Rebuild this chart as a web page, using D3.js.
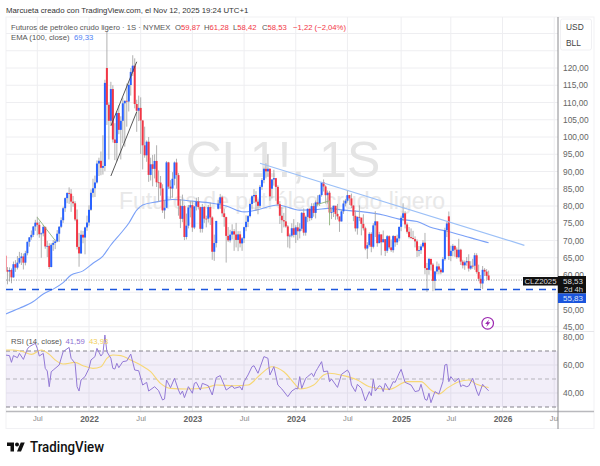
<!DOCTYPE html>
<html>
<head>
<meta charset="utf-8">
<script src="https://cdn.jsdelivr.net/npm/d3@7"></script>
<style>
  body { margin: 0; background: #fff; }
  svg { display: block; font-family: "Liberation Sans", Arial, sans-serif; }
</style>
</head>
<body>
<svg id="chart" width="600" height="466"></svg>
<script>
// weekly bars, first one is the week of 15 Mar 2021, week 0 is 3 Jan 2022
const firstWeek = -42;

const closes = [
  // 2021
  61.42,60.97,61.45,59.32,63.13,62.14,63.58,64.90,65.37,63.58,66.32,69.62,70.91,71.64,74.05,75.16,
  74.56,71.81,72.07,73.95,68.28,68.44,62.32,68.74,69.29,69.72,71.97,73.98,75.88,79.35,82.28,83.76,
  83.57,81.27,80.79,76.10,68.15,66.26,71.67,70.86,73.79,75.21,
  // 2022
  78.90,83.82,85.14,86.82,92.31,93.10,91.07,91.59,115.68,109.33,104.70,113.90,99.27,98.26,106.95,102.07,
  104.69,109.77,110.49,110.28,115.07,118.87,120.67,109.56,107.62,108.43,104.79,97.59,94.70,98.62,89.01,92.09,
  90.77,93.06,86.87,86.79,85.11,78.74,79.49,92.64,85.61,85.05,87.90,92.61,88.96,80.08,76.28,79.98,
  71.02,74.29,79.56,80.26,
  // 2023
  73.77,79.86,81.31,79.68,73.39,79.72,76.34,76.32,79.68,76.68,66.74,69.26,75.67,80.70,82.52,77.87,
  76.78,71.34,70.04,71.69,72.67,71.74,70.17,71.78,69.16,70.64,73.86,75.42,77.07,80.58,82.82,83.19,
  81.25,80.05,85.55,87.51,90.77,90.03,90.79,82.79,87.69,88.08,85.54,80.51,77.17,75.89,75.54,74.07,
  71.23,71.43,73.56,71.65,
  // 2024
  73.81,72.68,73.41,78.01,72.28,76.84,79.19,76.49,79.97,78.01,81.04,80.63,83.17,86.91,85.66,83.14,
  83.85,78.11,78.26,80.06,77.72,76.99,75.53,78.45,80.73,81.54,83.16,82.21,80.13,77.16,73.52,76.84,
  76.65,74.83,73.55,67.67,68.65,71.92,68.18,74.38,75.56,69.22,71.78,69.49,70.38,67.02,71.24,68.00,
  67.20,71.29,69.46,70.60,73.96,
  // 2025
  76.57,77.88,74.66,72.53,71.00,70.74,70.40,69.76,67.04,67.18,68.28,69.36,61.99,61.50,64.68,63.02,
  58.29,61.02,62.49,61.53,60.79,64.58,72.98,74.93,65.52,67.00,68.45,67.34,65.16,67.33,63.88,62.80,
  63.66,64.01,61.87,62.69,62.68,65.72,60.88,58.90,57.54,61.50,60.98,59.75,58.53
];
const highs = [
  66.4,62.3,62.2,61.9,63.9,64.3,65.5,66.7,66.4,66.2,67.0,69.7,71.0,72.9,74.2,76.0,
  76.9,75.5,72.3,74.5,74.0,69.9,69.2,69.2,70.1,70.3,73.0,74.2,76.7,79.8,82.5,84.0,
  85.4,84.9,82.9,81.4,79.0,72.2,72.9,72.8,74.0,77.2,
  80.2,84.8,87.9,88.8,93.2,94.0,95.8,100.5,116.6,130.5,110.0,116.0,115.0,104.0,107.5,109.2,
  106.0,111.4,110.6,115.5,115.4,120.0,123.7,122.8,110.8,112.0,111.5,104.9,103.0,99.0,100.0,94.0,
  94.8,95.0,97.6,90.3,88.7,86.3,81.8,93.0,92.8,87.5,89.8,92.9,93.7,89.6,82.0,83.3,
  80.3,77.8,80.3,81.5,
  81.5,80.0,82.4,82.6,79.8,80.6,80.0,77.2,80.3,81.0,77.0,71.7,75.7,81.7,83.5,83.0,
  79.2,76.9,73.9,73.1,74.7,73.3,75.1,72.7,72.7,71.0,74.0,77.3,77.4,80.8,83.1,84.9,
  84.3,81.9,86.1,88.1,91.1,92.4,95.0,90.9,87.8,90.5,87.5,86.0,81.4,79.7,78.0,79.7,
  74.5,72.0,75.0,76.2,
  74.4,75.3,75.0,78.3,79.3,77.2,79.3,79.3,80.8,80.8,81.6,83.1,83.4,87.0,87.7,86.0,
  84.5,84.4,79.6,80.1,80.0,80.6,76.5,78.9,81.6,82.0,84.5,83.2,83.6,80.2,78.7,77.0,
  80.2,76.0,77.6,74.0,69.5,72.4,72.4,75.0,78.5,75.2,72.5,71.6,72.9,70.4,71.6,71.5,
  70.3,71.6,71.4,71.7,74.0,
  77.2,80.8,78.5,75.2,73.9,73.5,72.8,71.2,70.3,68.4,68.9,70.1,72.2,63.5,64.9,64.2,
  63.5,61.2,63.9,63.3,62.0,65.2,73.7,75.5,78.4,68.5,69.0,68.5,68.0,70.5,67.6,64.4,
  64.2,65.2,66.0,64.0,64.7,66.4,66.3,63.0,60.0,62.6,62.0,61.7,61.28
];
const lows = [
  57.3,57.3,58.1,57.6,59.2,60.9,61.6,63.2,62.9,61.6,62.8,65.7,68.2,70.2,71.0,72.8,
  71.5,70.8,65.0,71.2,67.6,65.2,61.7,62.2,67.0,67.5,69.5,69.6,73.6,75.1,78.3,80.8,
  80.6,78.3,79.8,75.6,67.4,62.4,66.1,69.2,66.0,72.8,
  74.3,78.6,82.5,82.6,86.5,88.7,88.9,89.1,90.1,103.5,93.5,103.5,98.4,93.3,92.9,100.8,
  93.5,98.2,97.2,103.0,107.4,112.0,117.7,108.3,101.5,104.6,95.1,90.6,94.0,92.8,87.0,87.4,
  85.7,88.0,85.5,81.2,83.0,78.0,76.3,79.4,84.9,82.1,82.4,86.0,85.0,77.2,73.6,75.3,
  70.1,70.3,73.5,76.7,
  72.5,73.3,78.7,79.0,72.3,72.3,75.1,73.8,75.2,74.5,64.4,64.1,68.0,79.0,79.2,76.9,
  74.0,63.6,69.6,69.4,70.3,67.0,68.0,66.9,68.0,67.0,69.3,72.7,73.9,76.7,79.0,80.9,
  78.6,77.6,79.4,84.7,86.6,88.0,88.5,81.5,82.2,85.9,81.5,80.1,74.8,72.2,73.8,73.7,
  68.0,67.7,70.9,70.9,
  69.3,70.1,70.6,72.8,71.4,71.4,75.3,75.6,75.9,76.9,76.4,79.9,80.0,82.7,84.2,80.7,
  80.7,77.7,76.2,76.8,76.0,76.1,72.5,75.5,77.7,79.9,81.0,80.3,79.4,75.6,72.6,71.7,
  75.6,71.5,72.9,67.2,64.7,68.2,66.6,67.7,71.0,68.2,69.7,65.7,69.5,65.5,66.4,67.5,
  66.7,66.5,68.2,68.7,69.8,
  72.7,75.6,73.5,72.0,70.6,70.4,70.4,68.0,65.2,65.4,66.1,67.9,60.2,55.1,60.1,61.3,
  55.3,55.5,60.2,60.2,60.2,60.6,64.1,71.0,64.4,64.0,65.4,65.3,64.7,64.9,62.9,61.9,
  61.5,62.7,61.0,61.5,61.8,61.5,60.4,58.2,56.2,55.9,59.7,58.7,58.42
];
// weeks that opened away from the previous close
const gapWeeks = [-42, 9, 65, 92, 181, 201];
const gapOpens = [65.6, 120.0, 79.2, 85.0, 77.0, 59.87];

const emaWeeks = [-42,-35,-28,-23,-18,-13,-9,-3,2,7,11,16,20,24,27,34,42,52,62,69,78,84,95,106,115,120,128,138,148,156,165,173,179,187,195,201];
const emaValues = [48.7,50.35,52.3,54.5,55.9,57.8,60.0,61.2,63.4,65.5,68.7,72.1,75.0,78.8,80.3,81.2,81.9,81.4,80.8,80.0,78.3,78.8,80.3,78.8,79.0,79.3,78.8,78.3,77.4,76.2,75.5,73.6,72.8,71.6,70.3,69.33];

const rsiWeeks = [-42,-40,-39,-38,-36,-35,-33,-31,-30,-27,-26,-25,-23,-22,-21,-20,-19,-18,-15,-13,-10,-9,-7,-6,-5,-4,-2,0,1,3,4,6,7,8,9,11,12,13,14,15,17,19,21,23,25,27,29,30,33,35,37,38,39,41,43,45,46,47,48,50,52,53,54,56,57,60,62,64,66,68,69,72,73,76,77,78,80,82,83,85,88,90,91,93,95,97,100,102,104,105,106,107,109,110,112,113,114,115,117,118,120,121,122,125,127,130,131,132,134,135,137,139,141,142,143,144,146,147,148,149,151,153,154,156,157,159,162,164,166,167,169,170,171,172,174,176,178,179,180,181,182,184,186,187,188,190,191,193,195,196,198,199,201];
const rsiValues = [67.1,66.7,61.9,66.7,65.2,68.3,64.0,71.4,73.1,75.5,71.9,66.4,68.3,57.6,55.7,44.5,55.2,56.4,60.0,69.5,72.6,64.8,61.2,44.5,41.4,49.3,51.7,57.6,63.6,66.0,71.9,66.4,68.3,81.4,69.5,64.8,57.6,57.1,61.2,58.1,62.4,62.9,67.8,56.4,55.9,45.7,47.6,41.4,44.5,41.7,35.0,35.7,49.3,43.8,50.5,42.1,39.0,41.4,36.7,44.5,39.8,46.9,47.6,42.1,46.9,45.2,38.6,51.0,52.4,45.7,42.1,45.2,43.3,44.5,42.1,48.1,52.9,58.8,59.5,54.1,66.0,64.8,52.9,58.8,45.7,42.9,37.4,41.4,43.3,42.9,51.7,43.3,50.5,51.7,54.1,51.7,55.2,57.6,62.4,55.2,55.7,48.1,50.0,44.0,53.3,56.4,54.1,45.7,41.0,46.2,43.3,34.3,41.0,38.1,49.8,41.4,45.2,44.5,41.0,46.9,42.1,48.1,47.6,54.1,56.9,47.6,45.7,41.0,41.7,46.2,35.5,34.8,39.8,33.1,41.0,39.3,48.1,60.0,60.5,48.1,51.7,48.1,50.5,44.5,45.7,44.5,45.0,50.5,41.4,38.1,46.2,44.5,41.59];

const rsiMaWeeks = [-42,-38,-33,-29,-24,-20,-17,-13,-7,-3,2,6,9,12,16,21,26,31,36,41,49,59,64,73,80,86,92,98,104,106,113,118,121,128,135,141,151,160,167,172,176,180,186,191,195,201];
const rsiMaValues = [70.7,70.7,69.5,67.6,70.7,67.6,63.6,60.7,61.9,59.5,57.6,58.8,64.8,67.1,66.7,63.6,60.0,55.2,46.9,43.3,42.9,43.8,45.7,45.2,45.7,52.9,58.8,55.2,45.7,42.9,45.7,52.9,54.1,52.4,49.3,44.5,42.6,48.1,48.1,42.1,39.3,43.3,48.1,49.3,46.2,43.93];

const priceTicks = [45,50,55,60,65,70,75,80,85,90,95,100,105,110,115,120,125,130];
const priceLabelTicks = [45,50,60,65,70,75,80,85,90,95,100,105,110,115,120];
const rsiTicks = [40,60,80];
const timeTickWeeks = [-26,0,26,52,78,104,130,157,182,208,234];
const timeTickLabels = ["Jul","2022","Jul","2023","Jul","2024","Jul","2025","Jul","2026","Jul"];

const lastPrice = 58.53;
const supportPrice = 55.83;

// annotations, each one is [week, price] pairs
const trendLines = [
  { pts: [[86,92.4],[219,68.6]], color: "#9cc0f7", w: 1.2 },
  { pts: [[11,103.2],[24,121.8]], color: "#444", w: 0.9 },
  { pts: [[11,88.7],[24,107.3]], color: "#444", w: 0.9 },
  { pts: [[-26,76.7],[-17,70.0]], color: "#8fb37a", w: 0.9 },
  { pts: [[114,80.3],[121,81.5]], color: "#8fb37a", w: 0.9 },
  { pts: [[121,81.5],[121,74.4]], color: "#8fb37a", w: 0.9 }
];

const UP = "#2962ff", DOWN = "#f23645", WICK = "#a8a8a8";
const paneLeft = 6, paneRight = 558, panelRight = 594;
const FONT = '"Liberation Sans", Arial, sans-serif';

const x = d3.scaleLinear().domain([0, 201]).range([89, 488.6]);
const y = d3.scaleLinear().domain([120, 50]).range([68, 309.5]);
const yRsi = d3.scaleLinear().domain([80, 30]).range([337, 407]);

const bars = closes.map((c, i) => {
  const week = firstWeek + i;
  const g = gapWeeks.indexOf(week);
  const open = g >= 0 ? gapOpens[g] : closes[i - 1];
  return { week, open, close: c, high: highs[i], low: lows[i] };
});

const svg = d3.select("#chart");
const comma = d3.format(".2f");
const fmt = (v) => comma(v).replace(".", ",");

const defs = svg.append("defs");
defs.append("clipPath").attr("id", "pricePane").append("rect")
  .attr("x", paneLeft).attr("y", 17).attr("width", paneRight - paneLeft).attr("height", 314);
defs.append("clipPath").attr("id", "rsiPane").append("rect")
  .attr("x", paneLeft).attr("y", 332).attr("width", paneRight - paneLeft).attr("height", 79);
defs.append("clipPath").attr("id", "timePane").append("rect")
  .attr("x", paneLeft).attr("y", 412).attr("width", paneRight - paneLeft).attr("height", 17);

svg.append("text").attr("x", 6).attr("y", 12.5).attr("font-size", 7.8).attr("fill", "#333")
  .text("Marcueta creado con TradingView.com, el Nov 12, 2025 19:24 UTC+1");

svg.append("rect").attr("x", 6).attr("y", 17).attr("width", panelRight - 6).attr("height", 411.5)
  .attr("fill", "#fff").attr("stroke", "#f1f1f4");

// grid
const grid = svg.append("g").attr("stroke", "#eeeef1").attr("stroke-width", 1);
grid.selectAll(".h").data(priceTicks).join("line")
  .attr("x1", paneLeft).attr("x2", paneRight).attr("y1", (d) => y(d)).attr("y2", (d) => y(d));
grid.selectAll(".v").data(timeTickWeeks).join("line")
  .attr("x1", (d) => x(d)).attr("x2", (d) => x(d)).attr("y1", 17).attr("y2", 411);

// watermark
svg.append("text").attr("x", 283).attr("y", 177).attr("text-anchor", "middle")
  .attr("font-size", 50).attr("fill", "#e4e4e4").text("CL1!, 1S");
svg.append("text").attr("x", 282).attr("y", 209).attr("text-anchor", "middle")
  .attr("font-size", 23).attr("fill", "#e8e8e8").text("Futuros de petróleo crudo ligero");

// price pane
const price = svg.append("g").attr("clip-path", "url(#pricePane)");

const line = d3.line().x((d) => x(d[0])).y((d) => y(d[1])).curve(d3.curveMonotoneX);
price.append("path").datum(emaWeeks.map((w, i) => [w, emaValues[i]]))
  .attr("d", line).attr("fill", "none").attr("stroke", "#7aa0f7").attr("stroke-width", 1.1);

price.selectAll(".wick").data(bars).join("line")
  .attr("x1", (d) => x(d.week)).attr("x2", (d) => x(d.week))
  .attr("y1", (d) => y(d.high)).attr("y2", (d) => y(d.low))
  .attr("stroke", WICK).attr("stroke-width", 0.9);
price.selectAll(".body").data(bars).join("rect")
  .attr("x", (d) => x(d.week) - 1).attr("width", 2)
  .attr("y", (d) => y(Math.max(d.open, d.close)))
  .attr("height", (d) => Math.max(0.8, Math.abs(y(d.open) - y(d.close))))
  .attr("fill", (d) => d.close >= d.open ? UP : DOWN);

const straight = d3.line().x((d) => x(d[0])).y((d) => y(d[1]));
price.selectAll(".trend").data(trendLines).join("path")
  .attr("d", (d) => straight(d.pts)).attr("fill", "none")
  .attr("stroke", (d) => d.color).attr("stroke-width", (d) => d.w);

price.append("line").attr("x1", paneLeft).attr("x2", 523).attr("y1", y(lastPrice)).attr("y2", y(lastPrice))
  .attr("stroke", "#777").attr("stroke-width", 0.8).attr("stroke-dasharray", "1 1.5");
price.append("line").attr("x1", paneLeft).attr("x2", 556).attr("y1", y(supportPrice)).attr("y2", y(supportPrice))
  .attr("stroke", "#1b55dd").attr("stroke-width", 1.5).attr("stroke-dasharray", "7 6");

// lightning mark
const bolt = svg.append("g").attr("transform", "translate(487.7,323.3)");
bolt.append("circle").attr("r", 5.8).attr("fill", "#fff").attr("stroke", "#9c27b0").attr("stroke-width", 1.2);
bolt.append("path").attr("d", "M1.4-3.8L-2.6 0.8H-0.3L-1.4 3.8L2.6-1H0.3Z").attr("fill", "#9c27b0");

// rsi pane
svg.append("rect").attr("x", paneLeft).attr("width", paneRight - paneLeft)
  .attr("y", yRsi(70)).attr("height", yRsi(30) - yRsi(70)).attr("fill", "#7e57c2").attr("fill-opacity", 0.1);
svg.selectAll(".rsigrid").data([60, 40]).join("line")
  .attr("x1", paneLeft).attr("x2", paneRight).attr("y1", (d) => yRsi(d)).attr("y2", (d) => yRsi(d))
  .attr("stroke", "#e2dfeb");
svg.selectAll(".rsiband").data([70, 50, 30]).join("line")
  .attr("x1", paneLeft).attr("x2", paneRight).attr("y1", (d) => yRsi(d)).attr("y2", (d) => yRsi(d))
  .attr("stroke", (d) => d === 50 ? "#b5b3bb" : "#85838b").attr("stroke-dasharray", "4 3");

const rsi = svg.append("g").attr("clip-path", "url(#rsiPane)");
const rsiLine = d3.line().x((d) => x(d[0])).y((d) => yRsi(d[1]));
rsi.append("path").datum(rsiMaWeeks.map((w, i) => [w, rsiMaValues[i]]))
  .attr("d", rsiLine.curve(d3.curveMonotoneX)).attr("fill", "none").attr("stroke", "#f7d774").attr("stroke-width", 1.1);
rsi.append("path").datum(rsiWeeks.map((w, i) => [w, rsiValues[i]]))
  .attr("d", rsiLine.curve(d3.curveLinear)).attr("fill", "none").attr("stroke", "#9379d6").attr("stroke-width", 1);

// pane separators
svg.append("line").attr("x1", paneLeft).attr("x2", panelRight).attr("y1", 331.5).attr("y2", 331.5).attr("stroke", "#e6e6ea");
svg.append("line").attr("x1", paneLeft).attr("x2", panelRight).attr("y1", 411.5).attr("y2", 411.5).attr("stroke", "#b9b9bd").attr("stroke-width", 1.4);
svg.append("line").attr("x1", paneRight).attr("x2", paneRight).attr("y1", 17).attr("y2", 429).attr("stroke", "#8a8a8e").attr("stroke-width", 1);

// axes
const styleAxis = (g) => {
  g.select(".domain").remove();
  g.selectAll(".tick line").remove();
  g.selectAll("text").attr("font-family", FONT);
};
svg.append("g").attr("transform", `translate(${paneRight},0)`)
  .call(d3.axisRight(y).tickValues(priceLabelTicks).tickFormat(fmt).tickSize(0).tickPadding(5))
  .call(styleAxis)
  .call((g) => g.selectAll("text").attr("font-size", 8.4).attr("fill", "#666"));
svg.append("g").attr("transform", `translate(${paneRight},0)`)
  .call(d3.axisRight(yRsi).tickValues(rsiTicks).tickFormat(fmt).tickSize(0).tickPadding(5))
  .call(styleAxis)
  .call((g) => g.selectAll("text").attr("font-size", 8.4).attr("fill", "#666"));
svg.append("g").attr("clip-path", "url(#timePane)")
  .append("g").attr("transform", "translate(0,412)")
  .call(d3.axisBottom(x).tickValues(timeTickWeeks).tickFormat((d, i) => timeTickLabels[i]).tickSize(0).tickPadding(4))
  .call(styleAxis)
  .call((g) => g.selectAll("text").attr("font-size", (d, i) => timeTickLabels[i] === "Jul" ? 7.6 : 8.4)
    .attr("font-weight", (d, i) => timeTickLabels[i] === "Jul" ? 400 : 700)
    .attr("fill", (d, i) => timeTickLabels[i] === "Jul" ? "#888" : "#666"));

// currency box
svg.append("rect").attr("x", 560.5).attr("y", 19).attr("width", 31).attr("height", 31).attr("rx", 2)
  .attr("fill", "#fff").attr("stroke", "#f0f0f3");
svg.append("text").attr("x", 566).attr("y", 30).attr("font-size", 8.4).attr("fill", "#444").text("USD");
svg.append("text").attr("x", 566).attr("y", 46).attr("font-size", 8.4).attr("fill", "#444").text("BLL");

// price tags
svg.append("rect").attr("x", 523).attr("y", 277).attr("width", 35).attr("height", 8.5).attr("fill", "#111");
svg.append("text").attr("x", 540.5).attr("y", 284.2).attr("text-anchor", "middle").attr("font-size", 7.8).attr("fill", "#ddd").text("CLZ2025");
svg.append("rect").attr("x", 558).attr("y", 276).attr("width", 28).attr("height", 17.5).attr("fill", "#111");
svg.append("text").attr("x", 563).attr("y", 283.6).attr("font-size", 8).attr("fill", "#ddd").text(fmt(lastPrice));
svg.append("text").attr("x", 564).attr("y", 291.8).attr("font-size", 7.6).attr("fill", "#ddd").text("2d 4h");
svg.append("rect").attr("x", 558).attr("y", 293.5).attr("width", 28).attr("height", 9.5).attr("fill", "#1b55dd");
svg.append("text").attr("x", 563).attr("y", 301.2).attr("font-size", 8).attr("fill", "#dfe6fb").text(fmt(supportPrice));

// legends
const legend = svg.append("text").attr("x", 11).attr("y", 29.5).attr("font-size", 7.7).attr("fill", "#555");
legend.append("tspan").text("Futuros de petróleo crudo ligero · 1S · NYMEX");
[["O", "59,87"], ["H", "61,28"], ["L", "58,42"], ["C", "58,53"]].forEach(([k, v], i) => {
  legend.append("tspan").attr("x", 175 + i * 29).text(k);
  legend.append("tspan").attr("fill", "#f23645").text(v);
});
legend.append("tspan").attr("x", 293).attr("fill", "#f23645").text("−1,22 (−2,04%)");

const ema = svg.append("text").attr("x", 11).attr("y", 40).attr("font-size", 7.7).attr("fill", "#555");
ema.append("tspan").text("EMA (100, close)");
ema.append("tspan").attr("x", 74).attr("fill", "#4f7ff5").text("69,33");

const rsiLabel = svg.append("text").attr("x", 11).attr("y", 344).attr("font-size", 7.7).attr("fill", "#555");
rsiLabel.append("tspan").text("RSI (14, close)");
rsiLabel.append("tspan").attr("x", 65.5).attr("fill", "#8d6fd1").text("41,59");
rsiLabel.append("tspan").attr("x", 89).attr("fill", "#f2cf5b").text("43,93");

// logo
const logo = svg.append("g").attr("transform", "translate(7,440.5) scale(0.5)").attr("fill", "#111");
logo.append("path").attr("d", "M14 22H7V11H0V4h14v18zM28 22h-8l7.5-18h8L28 22z");
logo.append("circle").attr("cx", 20).attr("cy", 8).attr("r", 4);
svg.append("text").attr("x", 30).attr("y", 452).attr("font-family", "Roboto").attr("font-size", 14).attr("font-weight", 500)
  .attr("textLength", 74).attr("lengthAdjust", "spacingAndGlyphs")
  .attr("fill", "#111").text("TradingView");
</script>
</body>
</html>
